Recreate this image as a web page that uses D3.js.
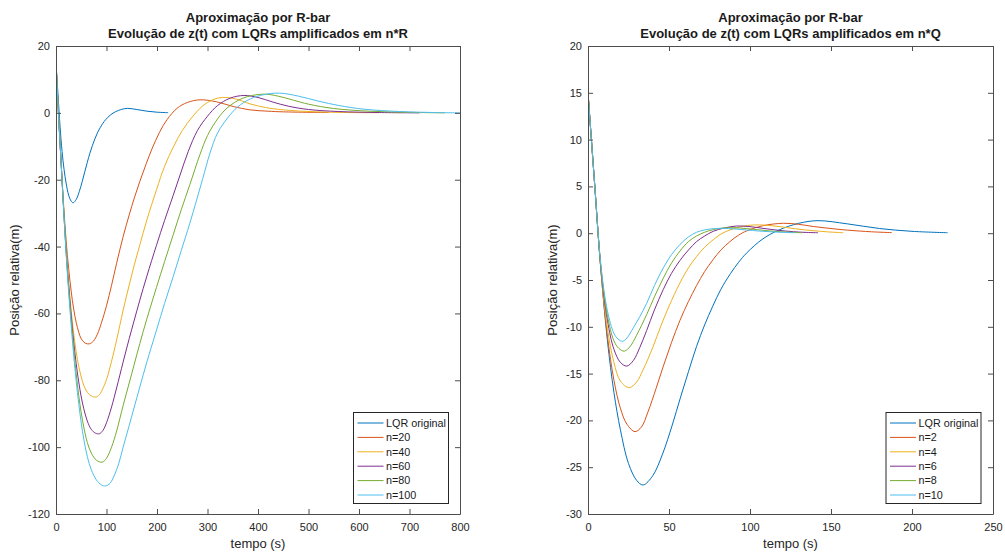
<!DOCTYPE html>
<html>
<head>
<meta charset="utf-8">
<script src="https://cdn.jsdelivr.net/npm/d3@7"></script>
<style>
  body { margin: 0; background: #fff; }
  svg { font-family: "Liberation Sans", Arial, sans-serif; }
</style>
</head>
<body>
<div id="chart"></div>
<script>
// [tempo (s), z (m)]
var lqrOriginal = [[0,15],[4,5.5],[8,-4],[12,-11.5],[16,-17],[20,-21],[25,-24.6],[30,-26.4],[34,-26.9],[40,-25.9],[46,-23.6],[52,-20.5],[57,-17.6],[62,-14.8],[67,-12.1],[72,-9.8],[77,-7.8],[82,-6.0],[88,-4.3],[93,-3.1],[98,-2.1],[108,-0.6],[118,0.35],[130,1.05],[142,1.34],[160,1.0],[180,0.5],[200,0.2],[222,0.05]];

// left panel: n*R
var nR20 = [[0,15],[5,-0.5],[10,-14.5],[15,-27.5],[20,-38],[25,-46.5],[30,-53.3],[35,-58.7],[40,-62.7],[45,-65.6],[50,-67.6],[58,-68.9],[66,-69.1],[74,-68.3],[82,-66.2],[90,-62.8],[100,-57.7],[110,-51.6],[120,-45],[133,-37],[145,-30.5],[155,-25.5],[166,-20.5],[178,-15.5],[190,-10.8],[205,-5.8],[220,-2],[240,1.4],[260,3.1],[285,3.9],[318,3.3],[351,1.9],[384,0.9],[420,0.5],[450,0.3],[540,0.1]];
var nR40 = [[0,15],[5,-0.5],[10,-14.5],[15,-28],[20,-40],[25,-50.5],[30,-59],[35,-66],[40,-71.5],[45,-75.8],[50,-79],[55,-81.5],[62,-83.6],[70,-84.7],[78.6,-85],[86,-84.3],[93,-82.4],[100,-79.8],[110,-74.3],[120,-68],[133,-59],[145,-51.5],[155,-45.5],[166,-39.5],[180,-32],[199,-23],[215,-16],[232,-10.3],[250,-5.3],[270,-1.2],[290,2],[310,3.9],[330,4.6],[355,4.2],[384,2.7],[415,1.6],[450,0.9],[516,0.3],[580,0.1],[640,0.05]];
var nR60 = [[0,15],[5,-0.5],[10,-14.5],[15,-28.5],[20,-41],[25,-51.5],[30,-60.5],[35,-68.5],[40,-75],[45,-80.5],[50,-85],[55,-88.5],[62,-92.2],[70,-94.7],[78,-95.8],[85.8,-96],[93,-95],[100,-92.7],[110,-88],[120,-82.3],[133,-74.5],[145,-67.5],[155,-62],[166,-56],[180,-48.8],[199,-39.6],[215,-32.2],[232,-24.7],[247,-18],[262,-11.5],[280,-5.3],[300,-1],[320,2.2],[345,4.4],[372,5.2],[400,4.6],[430,3.2],[460,2.0],[500,1.0],[560,0.4],[640,0.1],[720,0]];
var nR80 = [[0,15],[5,-0.5],[10,-14.5],[15,-28.5],[20,-41.5],[25,-52.5],[30,-62],[35,-70.5],[40,-78],[45,-84.5],[50,-89.8],[55,-94],[62,-98.6],[70,-101.8],[80,-103.9],[91.7,-104.5],[100,-103.3],[110,-100],[120,-95.2],[133,-87.5],[145,-80.8],[155,-75.2],[166,-69],[180,-61.6],[199,-52.2],[215,-44.5],[232,-36.5],[248,-29],[265,-21.5],[285,-12.5],[300,-6.8],[320,-1.8],[340,1.6],[370,4.4],[410,5.6],[440,5.0],[470,3.8],[500,2.6],[550,1.3],[620,0.5],[700,0.15],[770,0]];
var nR100 = [[0,15],[5,-0.5],[10,-14.5],[15,-28.7],[20,-42],[25,-53.5],[30,-63.5],[35,-72.5],[40,-80.3],[45,-87],[50,-92.8],[55,-97.6],[62,-102.8],[70,-106.8],[80,-109.8],[90,-111.3],[98.4,-111.6],[107,-110.8],[115,-108.6],[124,-105],[133,-100],[145,-93.5],[155,-88],[166,-82],[180,-74.5],[199,-65],[215,-57],[232,-49],[248,-41.2],[265,-33],[290,-20],[305,-12],[320,-6],[340,-1.5],[360,1.8],[385,4.2],[410,5.4],[443,5.9],[480,5.0],[520,3.5],[560,2.2],[610,1.1],[680,0.4],[750,0.1],[800,0]];

// right panel: n*Q
var nQ2 = [[0,15],[4,5.5],[8,-4],[12,-11],[16,-15.7],[20,-18.7],[24,-20.4],[29,-21.2],[33,-20.7],[37,-19.1],[42,-16.6],[46.5,-14.2],[51.5,-11.7],[56.8,-9.3],[62,-7.3],[67,-5.6],[72,-4.1],[77.3,-2.8],[82,-1.8],[87.6,-0.9],[93,-0.2],[98,0.25],[108,0.8],[120.6,1.06],[130,0.95],[139,0.72],[150,0.5],[160,0.33],[175,0.15],[187.5,0.06]];
var nQ4 = [[0,15],[4,5.5],[8,-4],[12,-10.2],[16,-13.8],[20,-15.8],[25.5,-16.5],[30,-15.9],[34,-14.6],[40,-12.2],[45,-9.9],[50,-7.8],[56.8,-5.3],[62,-3.7],[67,-2.5],[72,-1.5],[77.3,-0.7],[82,-0.1],[87.6,0.35],[95,0.72],[102,0.88],[110,0.85],[118.5,0.7],[128,0.47],[139,0.27],[148,0.14],[157.6,0.05]];
var nQ6 = [[0,15],[4,5.5],[8,-3.8],[12,-9.3],[16,-12.4],[20,-13.8],[23.9,-14.2],[28,-13.6],[32,-12.2],[36.2,-10.4],[41,-8.2],[46.5,-6],[51.5,-4.3],[56.8,-2.9],[62,-1.8],[67,-0.9],[72,-0.3],[77.3,0.2],[84,0.55],[91.8,0.77],[100,0.7],[108,0.52],[117,0.32],[126.7,0.16],[135,0.08],[142,0.05]];
var nQ8 = [[0,15],[4,5.5],[8,-3.6],[12,-8.8],[16,-11.5],[19,-12.3],[22.4,-12.6],[26,-12.1],[30,-10.9],[36.2,-8.7],[41,-6.8],[46.5,-4.8],[51.5,-3.2],[56.8,-1.9],[62,-0.9],[67,-0.3],[72,0.1],[77.3,0.38],[85.6,0.59],[94,0.55],[102,0.42],[110,0.28],[118.5,0.16],[125,0.1],[132,0.05]];
var nQ10 = [[0,15],[4,5.5],[8,-3.5],[12,-8.3],[16,-10.7],[18.5,-11.3],[21.4,-11.55],[24,-11.2],[28,-10.1],[32,-8.9],[36.2,-7.5],[41,-5.6],[46.5,-3.7],[51.5,-2.3],[56.8,-1.2],[62,-0.4],[67,0.1],[72,0.35],[77.3,0.48],[83.5,0.52],[90,0.46],[98,0.34],[105,0.24],[112,0.16],[120,0.09],[128,0.05]];

var legendR = ['LQR original', 'n=20', 'n=40', 'n=60', 'n=80', 'n=100'];
var legendQ = ['LQR original', 'n=2', 'n=4', 'n=6', 'n=8', 'n=10'];

var xTicksR = [0, 100, 200, 300, 400, 500, 600, 700, 800];
var yTicksR = [20, 0, -20, -40, -60, -80, -100, -120];
var xTicksQ = [0, 50, 100, 150, 200, 250];
var yTicksQ = [20, 15, 10, 5, 0, -5, -10, -15, -20, -25, -30];

var colors = ['#0072BD', '#D95319', '#EDB120', '#7E2F8E', '#77AC30', '#4DBEEE'];

var svg = d3.select('#chart').append('svg')
    .attr('width', 1005)
    .attr('height', 556);

function drawPanel(p) {
    var x = d3.scaleLinear().domain(d3.extent(p.xTicks)).range([p.left, p.right]);
    var y = d3.scaleLinear().domain(d3.extent(p.yTicks)).range([p.bottom, p.top]);
    var g = svg.append('g');
    var axisColor = '#4d4d4d';

    // the curves, clipped to the box
    var clipId = 'clip' + p.left;
    svg.append('clipPath').attr('id', clipId)
        .append('rect')
        .attr('x', p.left).attr('y', p.top)
        .attr('width', p.right - p.left).attr('height', p.bottom - p.top);

    var line = d3.line()
        .x(function (d) { return x(d[0]); })
        .y(function (d) { return y(d[1]); })
        .curve(d3.curveCatmullRom.alpha(0.5));

    g.append('g').attr('clip-path', 'url(#' + clipId + ')')
        .selectAll('path')
        .data(p.series)
        .join('path')
        .attr('d', line)
        .attr('fill', 'none')
        .attr('stroke', function (d, i) { return colors[i]; })
        .attr('stroke-width', 1);

    // axes: ticks point inward, box on all four sides
    var tick = 5;
    var bottomAxis = d3.axisBottom(x).tickValues(p.xTicks).tickSizeInner(-tick).tickSizeOuter(0).tickPadding(9);
    var leftAxis = d3.axisLeft(y).tickValues(p.yTicks).tickSizeInner(-tick).tickSizeOuter(0).tickPadding(6)
        .tickFormat(function (d) { return d; });
    var topAxis = d3.axisTop(x).tickValues(p.xTicks).tickSizeInner(-tick).tickSizeOuter(0).tickFormat('');
    var rightAxis = d3.axisRight(y).tickValues(p.yTicks).tickSizeInner(-tick).tickSizeOuter(0).tickFormat('');

    var axes = [
        [bottomAxis, 'translate(0,' + p.bottom + ')'],
        [leftAxis, 'translate(' + p.left + ',0)'],
        [topAxis, 'translate(0,' + p.top + ')'],
        [rightAxis, 'translate(' + p.right + ',0)']
    ];
    axes.forEach(function (a) {
        var ag = g.append('g').attr('transform', a[1]).call(a[0]);
        ag.select('.domain').attr('stroke', axisColor);
        ag.selectAll('.tick line').attr('stroke', axisColor);
        ag.selectAll('.tick text')
            .attr('fill', '#262626')
            .style('font-size', '11px')
            .style('font-family', '"Liberation Sans", Arial, sans-serif');
    });

    // titles
    var cx = (p.left + p.right) / 2;
    g.append('text').attr('x', cx).attr('y', 21.5)
        .attr('text-anchor', 'middle')
        .style('font-size', '13px').style('font-weight', 'bold')
        .attr('fill', '#1a1a1a')
        .text('Aproximação por R-bar');
    g.append('text').attr('x', cx).attr('y', 38)
        .attr('text-anchor', 'middle')
        .style('font-size', '13px').style('font-weight', 'bold')
        .attr('fill', '#1a1a1a')
        .text(p.title);

    g.append('text').attr('x', cx).attr('y', 548)
        .attr('text-anchor', 'middle')
        .style('font-size', '13px').attr('fill', '#262626')
        .text('tempo (s)');
    g.append('text')
        .attr('transform', 'translate(' + p.ylabelX + ',' + (p.top + p.bottom) / 2 + ') rotate(-90)')
        .attr('text-anchor', 'middle')
        .style('font-size', '13px').attr('fill', '#262626')
        .text('Posição relativa(m)');

    // legend
    var lg = g.append('g').attr('transform', 'translate(' + p.legendX + ',' + 412.5 + ')');
    lg.append('rect')
        .attr('width', p.legendW).attr('height', 91)
        .attr('fill', '#fff').attr('stroke', '#262626').attr('stroke-width', 1);
    var rows = lg.selectAll('g.row').data(p.labels).join('g')
        .attr('class', 'row')
        .attr('transform', function (d, i) { return 'translate(0,' + (10.5 + i * 14.4) + ')'; });
    rows.append('line')
        .attr('x1', 4).attr('x2', 30)
        .attr('stroke', function (d, i) { return colors[i]; })
        .attr('stroke-width', 1);
    rows.append('text')
        .attr('x', 32.5).attr('dy', '0.35em')
        .style('font-size', '10.8px').attr('fill', '#1a1a1a')
        .text(function (d) { return d; });
}

drawPanel({
    left: 56, right: 460, top: 46, bottom: 514,
    xTicks: xTicksR, yTicks: yTicksR,
    series: [lqrOriginal, nR20, nR40, nR60, nR80, nR100],
    labels: legendR,
    title: 'Evolução de z(t) com LQRs amplificados em n*R',
    ylabelX: 19, legendX: 353.5, legendW: 95
});

drawPanel({
    left: 588, right: 993, top: 46, bottom: 514,
    xTicks: xTicksQ, yTicks: yTicksQ,
    series: [lqrOriginal, nQ2, nQ4, nQ6, nQ8, nQ10],
    labels: legendQ,
    title: 'Evolução de z(t) com LQRs amplificados em n*Q',
    ylabelX: 557, legendX: 886, legendW: 95
});
</script>
</body>
</html>
